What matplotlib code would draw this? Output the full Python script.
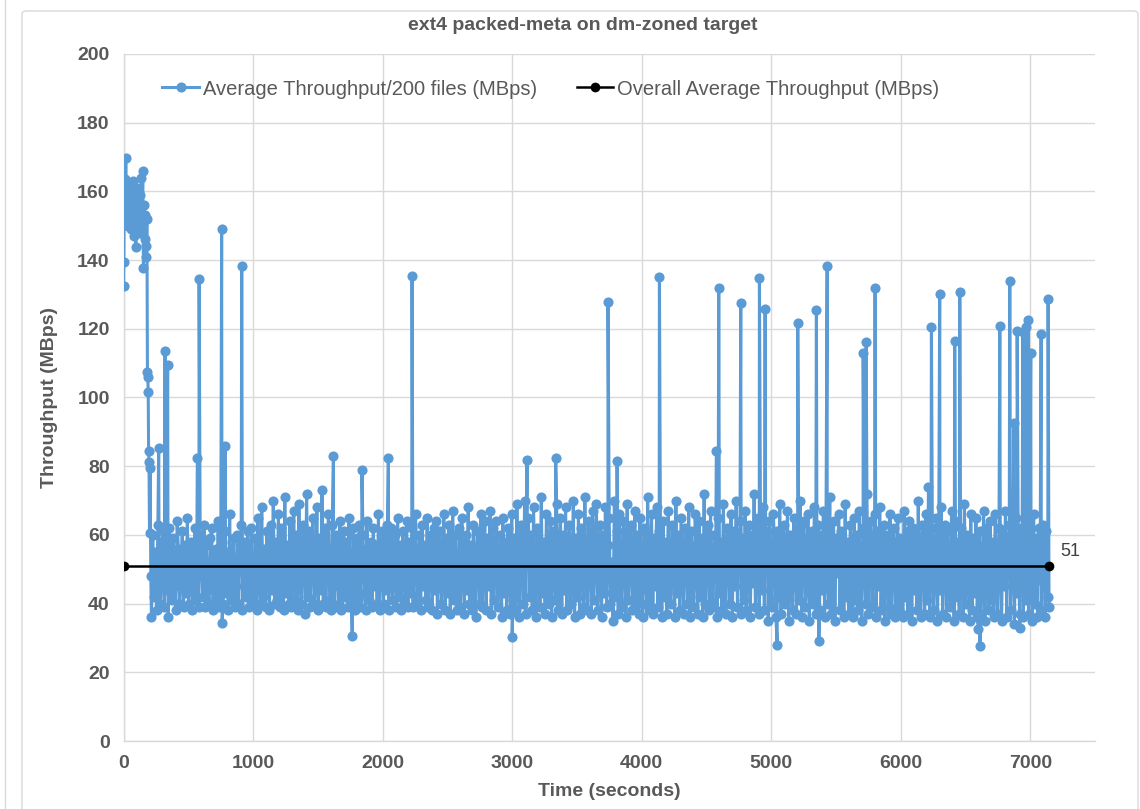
import numpy as np
import matplotlib
matplotlib.use("Agg")
import matplotlib.pyplot as plt
from matplotlib.patches import FancyBboxPatch
from matplotlib.lines import Line2D

plt.rcParams['font.family'] = ['Liberation Sans Narrow', 'Liberation Sans', 'DejaVu Sans']

# ---------------- data ----------------
title = "ext4 packed-meta on dm-zoned target"
series_name = "Average Throughput/200 files (MBps)"
avg_name = "Overall Average Throughput (MBps)"
x_label = "Time (seconds)"
y_label = "Throughput (MBps)"
x_ticks = [0, 1000, 2000, 3000, 4000, 5000, 6000, 7000]
y_ticks = [0, 20, 40, 60, 80, 100, 120, 140, 160, 180, 200]

# start-up phase (high throughput)
early_t = [0, 2, 5, 9, 13, 17, 21, 25, 29, 34, 39, 44, 49, 54, 59, 64, 70, 76, 82, 88,
           94, 100, 106, 112, 118, 124, 130, 136, 142, 148, 153, 158, 163, 168, 172, 176,
           180, 184, 187, 190, 193, 196, 200, 205, 210, 215]
early_v = [132.5, 139.5, 155.7, 163.6, 159, 169.8, 152, 161, 157, 150, 162, 154, 158, 149,
           160, 156, 152, 163, 147, 158, 143.9, 155, 161, 150, 153, 159, 148, 164, 151, 166,
           137.7, 156, 146, 153, 141, 144, 152, 107.4, 106, 101.6, 84.4, 81.2, 60.5, 79.5,
           48, 36]

# steady-state band (225 s .. 7145 s), read left to right
band_start, band_end = 225, 7145
band_v = [
    60, 42, 55, 38, 63, 47, 40, 58, 61, 39, 44, 57, 36, 62, 52, 41, 59, 45, 38, 64,
    56, 40, 48, 61, 39, 57, 43, 65, 40, 53, 58, 38, 46, 62, 41, 55, 39, 60, 50, 42,
    63, 39, 57, 44, 40, 59, 62, 38, 51, 56, 41, 64, 39, 47, 58, 40, 61, 43, 55, 38,
    66, 41, 52, 59, 39, 45, 60, 40, 57, 63, 38, 49, 58, 42, 61, 39, 54, 62, 40, 44,
    59, 38, 65, 46, 40, 68, 42, 56, 39, 61, 52, 38, 63, 44, 70, 40, 58, 41, 66, 39,
    62, 48, 38, 71, 43, 57, 40, 64, 39, 55, 67, 41, 60, 38, 69, 46, 40, 63, 58, 37,
    72, 42, 61, 39, 56, 65, 40, 47, 68, 38, 59, 44, 73, 40, 62, 39, 54, 66, 41, 38,
    63, 45, 39, 60, 57, 40, 64, 38, 52, 61, 42, 58, 39, 65, 47, 40, 62, 55, 38, 59,
    41, 63, 39, 56, 60, 43, 38, 64, 50, 41, 58, 39, 62, 45, 57, 40, 66, 38, 53, 61,
    40, 59, 44, 63, 38, 55, 62, 41, 47, 60, 39, 65, 42, 57, 38, 61, 51, 40, 64, 39,
    58, 43, 62, 39, 54, 66, 40, 48, 60, 38, 63, 45, 57, 41, 65, 39, 52, 60, 38, 62,
    44, 64, 37, 57, 61, 40, 49, 66, 38, 59, 43, 63, 37, 55, 67, 41, 60, 38, 46, 62,
    39, 65, 52, 37, 60, 44, 68, 40, 57, 38, 63, 47, 36, 61, 56, 40, 66, 39, 53, 64,
    38, 59, 45, 67, 37, 62, 41, 55, 64, 39, 48, 60, 36, 65, 43, 58, 38, 62, 51, 37,
    66, 41, 59, 38, 69, 46, 36, 63, 57, 40, 70, 37, 54, 65, 42, 60, 38, 68, 47, 36,
    62, 55, 39, 71, 43, 58, 37, 66, 50, 40, 64, 36, 61, 57, 41, 69, 38, 53, 65, 37,
    60, 44, 68, 38, 56, 63, 40, 48, 70, 36, 59, 42, 66, 37, 62, 54, 39, 71, 45, 38,
    64, 58, 37, 67, 41, 55, 69, 38, 49, 63, 36, 60, 43, 68, 39, 57, 65, 40, 52, 35,
    70, 42, 61, 37, 66, 47, 39, 64, 58, 36, 69, 41, 55, 63, 38, 50, 67, 40, 60, 37,
    65, 44, 36, 62, 57, 40, 71, 38, 53, 66, 37, 59, 45, 68, 39, 61, 56, 36, 64, 42,
    58, 37, 67, 48, 40, 63, 55, 36, 70, 43, 60, 38, 65, 51, 37, 62, 58, 40, 68, 36,
    61, 45, 39, 66, 57, 37, 64, 42, 59, 36, 72, 40, 54, 63, 38, 67, 47, 39, 60, 56,
    36, 65, 43, 58, 38, 69, 50, 37, 62, 57, 40, 66, 36, 61, 45, 70, 39, 55, 64, 37,
    59, 41, 67, 38, 53, 63, 36, 60, 46, 72, 39, 57, 65, 37, 62, 44, 68, 38, 56, 61,
    35, 64, 48, 39, 66, 57, 36, 61, 42, 69, 37, 58, 63, 40, 52, 67, 35, 60, 45, 38,
    65, 56, 37, 62, 41, 70, 36, 59, 64, 39, 47, 66, 35, 58, 61, 40, 68, 37, 54, 63,
    38, 60, 44, 67, 36, 57, 62, 40, 71, 37, 55, 64, 35, 59, 49, 66, 38, 61, 57, 36,
    69, 42, 58, 37, 63, 53, 36, 65, 41, 60, 38, 67, 46, 35, 62, 57, 40, 72, 37, 59,
    64, 39, 55, 66, 36, 61, 45, 68, 38, 57, 63, 35, 60, 50, 39, 66, 37, 58, 62, 36,
    48, 65, 38, 59, 54, 36, 67, 42, 61, 37, 64, 56, 35, 62, 44, 60, 38, 70, 47, 36,
    63, 57, 37, 66, 41, 74, 36, 59, 62, 38, 51, 65, 35, 60, 44, 68, 37, 56, 63, 36,
    61, 46, 39, 67, 55, 35, 64, 42, 58, 37, 62, 57, 36, 69, 40, 60, 53, 35, 66, 38,
    59, 43, 65, 36, 57, 61, 37, 48, 67, 35, 62, 55, 38, 64, 41, 58, 36, 66, 50, 37,
    62, 58, 35, 60, 45, 67, 36, 56, 63, 38, 49, 61, 34, 65, 43, 57, 37, 62, 55, 36,
    60, 41, 64, 37, 58, 52, 35, 66, 40, 59, 36, 62, 47, 38, 63, 56, 36, 61, 42, 39,
]

# isolated high spikes
spike_t = [271, 320, 340, 570, 583, 757, 783, 912, 1620, 1840, 2044, 2227, 3115, 3336,
           3740, 3810, 4137, 4577, 4595, 4765, 4909, 4953, 5205, 5349, 5432, 5710, 5733,
           5802, 6237, 6301, 6417, 6456, 6765, 6842, 6873, 6899, 6943, 6966, 6986, 7004,
           7084, 7138]
spike_v = [85.3, 113.5, 109.5, 82.4, 134.5, 149, 86, 138.4, 83, 79, 82.4, 135.5, 81.8, 82.5,
           127.8, 81.5, 135, 84.4, 132, 127.6, 134.9, 125.7, 121.7, 125.5, 138.4, 113.1,
           116.2, 131.9, 120.4, 130.1, 116.4, 130.8, 120.7, 133.9, 92.6, 119.5, 119.2,
           120.5, 122.5, 113, 118.5, 128.6]

# isolated low dips
dip_t = [760, 1765, 3000, 5046, 5368, 6600, 6611, 6920]
dip_v = [34.3, 30.5, 30.4, 28, 29.1, 32.5, 27.8, 32.8]

overall_avg = 51
avg_t = [0, band_end]

# ---------------- assemble series ----------------
band_t = np.linspace(band_start, band_end, len(band_v))
t_all = np.concatenate([early_t, band_t, spike_t, dip_t])
v_all = np.concatenate([early_v, band_v, spike_v, dip_v])
order = np.argsort(t_all, kind="stable")
t_all, v_all = t_all[order], v_all[order]

# ---------------- figure ----------------
W, H = 1140, 809
fig = plt.figure(figsize=(W / 100, H / 100), dpi=100)

# outer chart frame
frame = FancyBboxPatch((22 / W, -0.05), (1138 - 22) / W, (H - 11) / H + 0.05,
                       boxstyle="round,pad=0,rounding_size=0.004",
                       transform=fig.transFigure, facecolor="none",
                       edgecolor="#D9D9D9", linewidth=1.0, zorder=-5)
fig.patches.append(frame)
fig.add_artist(Line2D([5 / W, 5 / W], [0, 1], transform=fig.transFigure,
                      color="#D9D9D9", linewidth=1.0, zorder=-5))

ax = fig.add_axes([123.6 / W, 1 - 741 / H, (1095 - 123.6) / W, (741 - 54) / H])
ax.set_facecolor("none")

blue = "#5B9BD5"
ax.plot(t_all, v_all, color=blue, linewidth=2.2, marker="o", markersize=7.3,
        markeredgewidth=0, label=series_name, zorder=3)
ax.plot(avg_t, [overall_avg] * len(avg_t), color="black", linewidth=1.8, marker="o",
        markersize=7.0, markeredgewidth=0, label=avg_name, zorder=4)
ax.annotate(str(overall_avg), xy=(avg_t[-1], overall_avg), xytext=(11, 14),
            textcoords="offset pixels", ha="left", va="center",
            fontsize=13, color="#404040")

ax.set_xlim(0, 7500)
ax.set_ylim(0, 200)
ax.set_xticks(x_ticks)
ax.set_yticks(y_ticks)
ax.grid(True, color="#D9D9D9", linewidth=1.0, zorder=0)
ax.set_axisbelow(True)
for s in ["top", "right"]:
    ax.spines[s].set_visible(False)
for s in ["left", "bottom"]:
    ax.spines[s].set_color("#D9D9D9")
    ax.spines[s].set_linewidth(1.0)
ax.tick_params(length=0, labelsize=14, labelcolor="#595959", pad=10)
for lab in ax.get_xticklabels() + ax.get_yticklabels():
    lab.set_fontweight("bold")

ax.set_xlabel(x_label, fontsize=14, fontweight="bold", color="#595959", labelpad=8)
ax.set_ylabel(y_label, fontsize=14, fontweight="bold", color="#595959", labelpad=14)

fig.text(583 / W, 1 - 25 / H, title, ha="center", va="center",
         fontsize=14, fontweight="bold", color="#595959")

leg = ax.legend(loc="center left", bbox_to_anchor=(0.04, 0.949), ncol=2,
                frameon=False, fontsize=14.5, handlelength=1.8, handletextpad=0.2,
                columnspacing=2.0, borderpad=0, borderaxespad=0)
for txt in leg.get_texts():
    txt.set_color("#595959")

fig.savefig("out.png", dpi=100)
